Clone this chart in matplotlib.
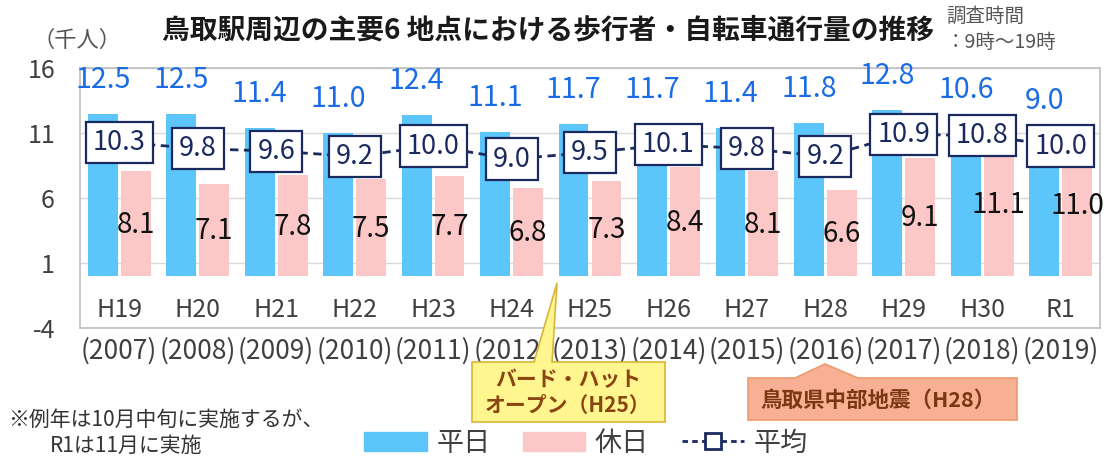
import matplotlib
matplotlib.use("Agg")
import matplotlib.pyplot as plt
from matplotlib.patches import Patch, Polygon
from matplotlib.lines import Line2D
import numpy as np

plt.rcParams['font.family'] = ['Noto Sans CJK JP', 'DejaVu Sans']
plt.rcParams['axes.unicode_minus'] = False

# data
wareki = ['H19', 'H20', 'H21', 'H22', 'H23', 'H24', 'H25', 'H26', 'H27', 'H28', 'H29', 'H30', 'R1']
years = ['(2007)', '(2008)', '(2009)', '(2010)', '(2011)', '(2012)', '(2013)',
         '(2014)', '(2015)', '(2016)', '(2017)', '(2018)', '(2019)']
heijitsu = [12.5, 12.5, 11.4, 11.0, 12.4, 11.1, 11.7, 11.7, 11.4, 11.8, 12.8, 10.6, 9.0]
kyujitsu = [8.1, 7.1, 7.8, 7.5, 7.7, 6.8, 7.3, 8.4, 8.1, 6.6, 9.1, 11.1, 11.0]
heikin = [10.3, 9.8, 9.6, 9.2, 10.0, 9.0, 9.5, 10.1, 9.8, 9.2, 10.9, 10.8, 10.0]

W, H = 1110, 461
def fx(p):
    return p / W
def fy(p):
    return 1 - p / H

blue = '#5cc6fb'
pink = '#fcc7c7'
navy = '#1b2a5e'
lblue = '#1a6be6'
gray = '#404040'

fig = plt.figure(figsize=(W / 100, H / 100), dpi=100)
ax = fig.add_axes([fx(80), fy(328), fx(1100) - fx(80), fy(68) - fy(328)])

x = np.arange(len(wareki))
bw = 0.38
ax.bar(x - 0.21, heijitsu, bw, color=blue, zorder=2)
ax.bar(x + 0.21, kyujitsu, bw, color=pink, zorder=2)
ax.plot(x, heikin, ls='--', color=navy, lw=2, dashes=(3, 2), zorder=3)

for i in range(len(x)):
    ly = max(heijitsu[i] + 2.6, heikin[i] + 3.5)
    ax.text(x[i] - 0.21, ly, f'{heijitsu[i]:.1f}', color=lblue, fontsize=20.5,
            ha='center', va='center', zorder=4)
    ax.text(x[i] + 0.21, kyujitsu[i] / 2 - 0.1, f'{kyujitsu[i]:.1f}', color='#111111',
            fontsize=20, ha='center', va='center', zorder=4)
    ax.text(x[i], heikin[i], f'{heikin[i]:.1f}', color=navy, fontsize=19.5,
            ha='center', va='center', zorder=5,
            bbox=dict(boxstyle='square,pad=0.26', fc='white', ec=navy, lw=1.6))
    ax.text(x[i], -2.6, wareki[i], color=gray, fontsize=18, ha='center', va='center')

ax.set_xlim(-0.5, len(x) - 0.5)
ax.set_ylim(-4, 16)
ax.set_yticks([-4, 1, 6, 11, 16])
ax.set_xticks(x)
ax.set_xticklabels(years, fontsize=19, color=gray)
ax.tick_params(axis='both', length=0, labelsize=18, labelcolor=gray)
ax.tick_params(axis='x', labelsize=19, pad=7)
ax.tick_params(axis='y', pad=18)
ax.grid(axis='y', color='#d9d9d9', lw=1, zorder=0)
for s in ax.spines.values():
    s.set_color('#bfbfbf')
    s.set_linewidth(1.2)

# titles
fig.text(fx(548), fy(30), '鳥取駅周辺の主要6 地点における歩行者・自転車通行量の推移',
         fontsize=20, fontweight='bold', color='#1a1a1a', ha='center', va='center')
fig.text(fx(33), fy(40), '（千人）', fontsize=16, color='#555555', ha='left', va='center')
fig.text(fx(946), fy(16), '調査時間', fontsize=14, color='#555555', ha='left', va='center')
fig.text(fx(946), fy(43), '：9時～19時', fontsize=14, color='#555555', ha='left', va='center')

fig.text(fx(8), fy(420), '※例年は10月中旬に実施するが、', fontsize=15, color='#333333',
         ha='left', va='center')
fig.text(fx(50), fy(446), 'R1は11月に実施', fontsize=15, color='#333333',
         ha='left', va='center')

# callouts
yel = [(472, 362), (534, 362), (557, 283), (552, 362), (665, 362), (665, 422), (472, 422)]
fig.add_artist(Polygon([(fx(a), fy(b)) for a, b in yel], closed=True, fc='#fff68f',
                       ec='#d9b43a', lw=1.2, transform=fig.transFigure, zorder=6))
fig.text(fx(568), fy(380), 'バード・ハット', fontsize=15, fontweight='bold', color='#8a4512',
         ha='center', va='center', zorder=7)
fig.text(fx(568), fy(405), 'オープン（H25）', fontsize=15, fontweight='bold', color='#8a4512',
         ha='center', va='center', zorder=7)

ora = [(748, 378), (795, 378), (825, 364), (858, 378), (1017, 378), (1017, 420), (748, 420)]
fig.add_artist(Polygon([(fx(a), fy(b)) for a, b in ora], closed=True, fc='#f7b093',
                       ec='#ee9a70', lw=1.2, transform=fig.transFigure, zorder=6))
fig.text(fx(878), fy(400), '鳥取県中部地震（H28）', fontsize=15.5, fontweight='bold',
         color='#7a3812', ha='center', va='center', zorder=7)

handles = [Patch(color=blue, label='平日'), Patch(color=pink, label='休日'),
           Line2D([], [], color=navy, ls='--', lw=2, dashes=(2, 1.5), marker='s',
                  markersize=11, mfc='white', mec=navy, mew=2, label='平均')]
leg = fig.legend(handles=handles, loc='center', bbox_to_anchor=(fx(586), fy(443)), ncol=3,
                 frameon=False, fontsize=19.5, handlelength=2.3, handleheight=0.7,
                 handletextpad=0.35, columnspacing=1.2)
for t in leg.get_texts():
    t.set_color(gray)

fig.savefig('out.png', dpi=100)
